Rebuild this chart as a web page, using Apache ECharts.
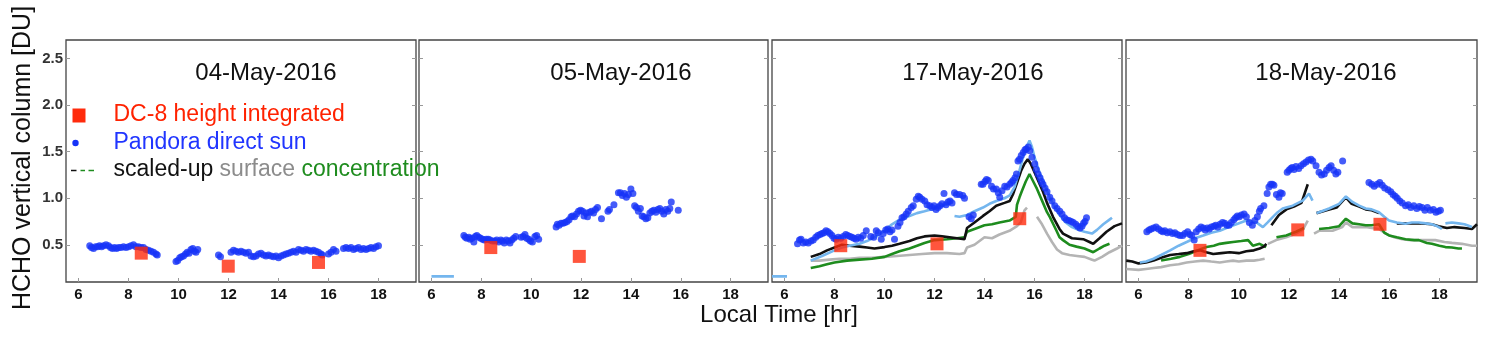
<!DOCTYPE html>
<html>
<head>
<meta charset="utf-8">
<script src="https://cdn.jsdelivr.net/npm/echarts@6/dist/echarts.min.js"></script>
<style>
  html, body { margin: 0; padding: 0; background: #fff; }
  #main { width: 1490px; height: 343px; }
</style>
</head>
<body>
<div id="main"></div>
<script>
// points are [local hour, HCHO column in DU]; null = break in a line
var days = ['04-May-2016', '05-May-2016', '17-May-2016', '18-May-2016'];
var xTicks = [6, 8, 10, 12, 14, 16, 18];
var yTicks = [0.5, 1.0, 1.5, 2.0, 2.5];

// DC-8 height integrated columns (red squares)
var dc8_0504 = [[8.51, 0.41], [11.99, 0.27], [15.6, 0.31]];
var dc8_0505 = [[8.38, 0.47], [11.93, 0.375]];
var dc8_0517 = [[8.25, 0.49], [12.1, 0.51], [15.41, 0.78]];
var dc8_0518 = [[8.45, 0.44], [12.35, 0.66], [15.63, 0.72]];

// Pandora direct sun (blue dots)
var pandora_0504 = [[6.45,0.49],[6.52,0.47],[6.6,0.46],[6.68,0.48],[6.76,0.48],[6.84,0.49],[6.92,0.48],[7.0,0.49],[7.1,0.5],[7.2,0.49],
  [7.28,0.47],[7.36,0.46],[7.44,0.47],[7.52,0.46],[7.6,0.47],[7.7,0.47],[7.8,0.48],[7.9,0.47],[8.0,0.48],[8.1,0.49],[8.2,0.5],[8.3,0.48],
  [8.4,0.48],[8.5,0.47],[8.6,0.47],[8.7,0.45],[8.8,0.44],[8.9,0.43],[9.0,0.42],[9.1,0.4],[9.15,0.39],
  [9.9,0.32],[9.97,0.33],[10.05,0.36],[10.12,0.37],[10.2,0.38],[10.28,0.4],[10.35,0.42],[10.42,0.41],[10.5,0.45],[10.57,0.46],[10.63,0.43],
  [10.7,0.42],[10.77,0.45],[11.6,0.39],[11.68,0.37],
  [12.1,0.42],[12.2,0.44],[12.3,0.43],[12.4,0.42],[12.5,0.43],[12.6,0.42],[12.7,0.41],[12.8,0.42],[12.9,0.38],[13.0,0.37],[13.1,0.38],
  [13.2,0.4],[13.3,0.41],[13.4,0.39],[13.5,0.38],[13.6,0.39],[13.7,0.38],[13.8,0.37],[13.9,0.38],[14.0,0.36],[14.1,0.38],[14.2,0.39],
  [14.3,0.4],[14.4,0.41],[14.5,0.42],[14.6,0.43],[14.7,0.42],[14.8,0.45],[14.9,0.44],[15.0,0.43],[15.1,0.45],[15.2,0.44],[15.3,0.43],
  [15.4,0.44],[15.5,0.43],[15.6,0.42],[15.7,0.4],[15.75,0.39],[16.0,0.4],[16.1,0.42],[16.2,0.45],[16.3,0.43],
  [16.6,0.46],[16.7,0.47],[16.8,0.46],[16.9,0.47],[17.0,0.45],[17.1,0.46],[17.2,0.47],[17.3,0.45],[17.4,0.46],[17.5,0.45],[17.6,0.46],
  [17.7,0.47],[17.8,0.46],[17.9,0.48],[18.0,0.49]];
var pandora_0505 = [[7.3,0.6],[7.36,0.58],[7.42,0.57],[7.5,0.58],[7.55,0.56],[7.62,0.57],[7.7,0.53],[7.76,0.59],[7.82,0.6],[7.9,0.58],
  [7.97,0.57],[8.05,0.56],[8.12,0.55],[8.2,0.56],[8.28,0.56],[8.35,0.55],[8.45,0.54],[8.55,0.54],[8.62,0.55],[8.7,0.53],[8.78,0.55],
  [8.85,0.54],[8.92,0.52],[9.0,0.55],[9.08,0.54],[9.15,0.52],[9.22,0.55],[9.3,0.57],[9.38,0.59],[9.6,0.58],[9.68,0.59],[9.75,0.61],
  [9.82,0.57],[9.9,0.56],[9.97,0.54],[10.05,0.53],[10.15,0.59],[10.22,0.6],[10.3,0.56],
  [11.0,0.69],[11.05,0.72],[11.12,0.71],[11.2,0.73],[11.28,0.73],[11.36,0.74],[11.44,0.75],[11.52,0.77],[11.6,0.8],[11.66,0.81],
  [11.74,0.8],[11.82,0.83],[11.9,0.86],[11.98,0.87],[12.06,0.86],[12.12,0.81],[12.2,0.84],[12.26,0.8],[12.34,0.85],[12.42,0.86],
  [12.5,0.84],[12.58,0.88],[12.66,0.9],[12.82,0.78],[13.08,0.86],[13.14,0.88],[13.32,0.93],[13.5,1.06],[13.58,1.06],[13.66,1.03],
  [13.74,1.05],[13.82,1.01],[13.9,1.04],[14.0,1.1],[14.08,1.05],[14.15,0.92],[14.22,0.9],[14.3,0.86],[14.38,0.89],[14.45,0.81],
  [14.52,0.8],[14.6,0.78],[14.68,0.79],[14.76,0.84],[14.84,0.86],[14.92,0.87],[15.0,0.85],[15.08,0.88],[15.16,0.89],[15.24,0.86],
  [15.32,0.83],[15.4,0.88],[15.48,0.86],[15.56,0.89],[15.62,0.96],[15.9,0.87]];
var pandora_0517 = [[6.52,0.51],[6.6,0.55],[6.66,0.56],[6.75,0.52],[6.85,0.53],[6.95,0.52],[7.06,0.54],[7.15,0.55],[7.25,0.58],
  [7.33,0.6],[7.42,0.61],[7.5,0.62],[7.58,0.63],[7.66,0.65],[7.74,0.64],[7.82,0.62],[7.9,0.6],[7.98,0.57],[8.06,0.56],[8.15,0.58],
  [8.25,0.57],[8.35,0.59],[8.45,0.61],[8.53,0.6],[8.62,0.59],[8.7,0.58],[8.78,0.57],[8.86,0.56],[8.95,0.58],[9.05,0.57],[9.15,0.6],
  [9.27,0.65],[9.45,0.59],[9.57,0.58],[9.67,0.65],[9.75,0.63],[9.87,0.56],[9.95,0.62],[10.05,0.66],[10.13,0.67],[10.22,0.64],
  [10.3,0.66],[10.4,0.56],[10.54,0.7],[10.62,0.74],[10.7,0.79],[10.78,0.8],[10.87,0.83],[10.95,0.86],[11.07,0.9],[11.15,0.92],
  [11.27,0.99],[11.35,1.02],[11.41,1.01],[11.5,0.99],[11.61,0.97],[11.7,0.93],[11.81,0.92],[11.9,0.9],[11.98,0.92],[12.06,0.88],
  [12.14,0.9],[12.22,0.92],[12.3,0.94],[12.38,1.05],[12.46,0.93],[12.54,0.96],[12.62,0.97],[12.7,0.95],[12.8,1.06],[12.88,1.04],
  [13.0,1.04],[13.13,1.03],[13.2,1.0],[13.38,0.8],[13.47,0.78],[13.55,0.82],[13.87,1.15],[13.94,1.15],[14.02,1.18],[14.08,1.2],
  [14.15,1.19],[14.28,1.13],[14.36,1.1],[14.47,1.1],[14.55,1.06],[14.61,1.01],[14.7,1.08],[14.81,1.13],[14.9,1.12],[15.01,1.15],
  [15.08,1.17],[15.14,1.19],[15.22,1.22],[15.28,1.26],[15.34,1.4],[15.4,1.42],[15.47,1.46],[15.55,1.49],[15.62,1.52],[15.67,1.53],
  [15.75,1.55],[15.81,1.51],[15.9,1.44],[16.01,1.37],[16.07,1.31],[16.14,1.26],[16.22,1.22],[16.28,1.18],[16.34,1.15],[16.42,1.11],
  [16.5,1.07],[16.61,1.01],[16.7,0.97],[16.81,0.92],[16.9,0.89],[17.01,0.86],[17.1,0.83],[17.2,0.79],[17.28,0.77],[17.38,0.76],
  [17.47,0.75],[17.55,0.74],[17.65,0.72],[17.73,0.7],[17.82,0.68],[17.9,0.7],[17.96,0.73],[18.02,0.75],[18.08,0.79]];
var pandora_0518 = [[6.33,0.64],[6.42,0.66],[6.5,0.67],[6.6,0.68],[6.7,0.69],[6.8,0.67],[6.9,0.65],[6.97,0.64],[7.05,0.65],[7.15,0.63],
  [7.25,0.64],[7.36,0.62],[7.45,0.63],[7.55,0.61],[7.65,0.6],[7.76,0.6],[7.85,0.62],[7.96,0.64],[8.05,0.61],[8.12,0.6],[8.22,0.55],
  [8.3,0.64],[8.4,0.67],[8.49,0.69],[8.58,0.68],[8.66,0.66],[8.74,0.68],[8.82,0.67],[8.9,0.69],[9.0,0.7],[9.08,0.71],[9.16,0.69],
  [9.25,0.72],[9.35,0.74],[9.44,0.73],[9.52,0.71],[9.61,0.71],[9.7,0.74],[9.8,0.77],[9.87,0.79],[9.94,0.81],[10.02,0.8],[10.1,0.82],
  [10.21,0.83],[10.3,0.8],[10.42,0.74],[10.54,0.71],[10.64,0.76],[10.74,0.8],[10.82,0.86],[10.87,0.89],[11.0,0.92],[11.13,1.05],
  [11.2,1.12],[11.27,1.15],[11.34,1.15],[11.4,1.14],[11.5,1.04],[11.6,1.01],[11.66,1.06],[11.73,1.05],[11.93,1.28],[12.0,1.3],
  [12.07,1.32],[12.13,1.33],[12.2,1.31],[12.28,1.34],[12.39,1.32],[12.48,1.35],[12.58,1.37],[12.68,1.39],[12.78,1.41],[12.88,1.42],
  [12.95,1.4],[13.08,1.35],[13.2,1.28],[13.3,1.25],[13.41,1.26],[13.5,1.3],[13.6,1.33],[13.68,1.35],[13.78,1.3],[13.87,1.26],
  [13.95,1.28],[14.14,1.4],[15.19,1.17],[15.3,1.15],[15.4,1.13],[15.52,1.15],[15.62,1.17],[15.72,1.14],[15.82,1.11],[15.95,1.09],
  [16.06,1.07],[16.15,1.04],[16.24,1.02],[16.32,1.0],[16.42,0.97],[16.52,0.95],[16.65,0.92],[16.76,0.93],[16.86,0.9],[16.98,0.92],
  [17.1,0.89],[17.2,0.91],[17.31,0.9],[17.42,0.87],[17.52,0.9],[17.64,0.87],[17.76,0.88],[17.86,0.85],[17.96,0.86],[18.04,0.87]];

// scaled-up surface concentration (three variants) plus the light-blue trace
var lightBlue_0504 = [];
var lightBlue_0505 = [[6.0,0.16],[6.9,0.16]];
var lightBlue_0517 = [[5.5,0.16],[6.1,0.16], null,
  [7.05,0.33],[7.5,0.38],[8.0,0.44],[8.3,0.47],[8.6,0.49],[9.0,0.51],[9.3,0.54],[9.6,0.58],[10.0,0.65],[10.3,0.72],[10.6,0.77],
  [11.0,0.81],[11.3,0.84],[11.6,0.86],[12.0,0.89],[12.3,0.92],[12.6,0.94], null,
  [12.8,0.81],[13.0,0.8],[13.3,0.82],[13.6,0.86],[13.94,0.9],[14.2,0.94],[14.47,0.97],[14.8,1.0],[15.01,1.03],[15.2,1.12],
  [15.4,1.3],[15.55,1.45],[15.7,1.56],[15.8,1.62],[15.9,1.55],[16.0,1.44],[16.2,1.28],[16.5,1.08],[16.75,0.93],[17.0,0.82],
  [17.25,0.74],[17.5,0.69],[17.75,0.66],[18.0,0.64],[18.3,0.62],[18.5,0.66],[18.75,0.72],[19.0,0.77],[19.1,0.79]];
var lightBlue_0518 = [[6.05,0.31],[6.3,0.32],[6.6,0.35],[6.9,0.39],[7.26,0.44],[7.6,0.49],[7.92,0.53],[8.25,0.57],[8.58,0.6],
  [8.9,0.63],[9.24,0.65],[9.6,0.69],[9.9,0.72],[10.3,0.76],[10.5,0.75],[10.7,0.74],[10.96,0.69],[11.15,0.74],[11.36,0.8],
  [11.55,0.85],[11.75,0.89],[12.15,0.92],[12.55,0.975],[12.8,1.05],[12.94,0.975], null,
  [13.1,0.84],[13.2,0.85],[13.6,0.89],[14.0,0.94],[14.27,1.02],[14.53,0.96],[14.8,0.92],[15.06,0.89],[15.3,0.88],[15.59,0.85],
  [15.8,0.8],[15.99,0.76],[16.3,0.74],[16.65,0.725],[16.9,0.74],[17.18,0.74],[17.45,0.73],[17.7,0.72],[17.9,0.7],[18.1,0.67], null,
  [18.24,0.73],[18.5,0.74],[18.76,0.73],[19.0,0.72],[19.3,0.69]];

var black_0517 = [[7.05,0.37],[7.4,0.4],[7.7,0.44],[8.0,0.47],[8.3,0.5],[8.6,0.49],[9.0,0.48],[9.3,0.47],[9.6,0.46],[10.0,0.475],
  [10.3,0.49],[10.6,0.51],[11.0,0.54],[11.3,0.57],[11.6,0.59],[12.0,0.6],[12.3,0.59],[12.6,0.58],[12.9,0.57],[13.2,0.56],
  [13.3,0.68],[13.6,0.74],[13.94,0.81],[14.2,0.86],[14.47,0.92],[14.8,0.95],[15.01,0.97],[15.15,1.05],[15.28,1.15],[15.47,1.3],
  [15.6,1.37],[15.73,1.42],[15.85,1.37],[16.0,1.28],[16.34,1.07],[16.5,0.95],[16.74,0.8],[17.0,0.67],[17.14,0.62],[17.5,0.57],
  [17.95,0.56],[18.2,0.53],[18.35,0.51],[18.6,0.57],[18.88,0.64],[19.2,0.7],[19.5,0.73]];
var black_0518 = [[5.51,0.33],[5.75,0.32],[6.0,0.3],[6.3,0.31],[6.6,0.33],[6.9,0.36],[7.26,0.39],[7.6,0.4],[7.92,0.41],[8.2,0.43],
  [8.45,0.44],[8.7,0.42],[8.98,0.4],[9.3,0.41],[9.64,0.42],[10.0,0.41],[10.3,0.43],[10.6,0.44],[10.83,0.46],[11.0,0.48],[11.1,0.51], null,
  [11.3,0.71],[11.6,0.82],[11.9,0.88],[12.2,0.91],[12.5,0.95],[12.75,1.15], null,
  [13.1,0.84],[13.5,0.87],[13.9,0.9],[14.27,1.01],[14.5,0.94],[14.8,0.91],[15.06,0.88],[15.3,0.87],[15.59,0.84], null,
  [16.3,0.73],[16.8,0.73],[17.3,0.73],[17.7,0.72],[17.97,0.7],[18.3,0.68],[18.6,0.69],[19.0,0.68],[19.3,0.67],[19.5,0.72]];

var green_0517 = [[7.05,0.25],[7.4,0.27],[7.7,0.29],[8.0,0.31],[8.5,0.33],[9.0,0.34],[9.5,0.35],[10.0,0.37],[10.3,0.4],[10.6,0.43],
  [11.0,0.46],[11.3,0.49],[11.6,0.52],[12.0,0.55],[12.5,0.56],[12.9,0.57],[13.2,0.58],[13.3,0.64],[13.6,0.67],[14.0,0.71],
  [14.3,0.72],[14.6,0.74],[15.0,0.76],[15.25,0.8],[15.3,0.93],[15.4,1.01],[15.5,1.08],[15.65,1.18],[15.8,1.26],[15.95,1.18],
  [16.1,1.1],[16.34,0.95],[16.5,0.85],[16.61,0.8],[16.88,0.65],[17.0,0.58],[17.14,0.55],[17.4,0.5],[17.68,0.48],[18.0,0.46],
  [18.35,0.42],[18.6,0.46],[18.8,0.49],[19.0,0.51]];
var green_0518 = [[6.9,0.33],[7.3,0.35],[7.65,0.37],[8.0,0.4],[8.18,0.42],[8.45,0.45],[8.71,0.475],[9.0,0.49],[9.24,0.51],[9.5,0.52],
  [9.77,0.53],[10.1,0.54],[10.37,0.55],[10.56,0.49],[10.83,0.51],[11.09,0.475], null,
  [11.5,0.58],[11.89,0.6],[12.28,0.64],[12.6,0.68], null,
  [13.2,0.67],[13.6,0.68],[14.0,0.7],[14.27,0.78],[14.53,0.73],[14.8,0.72],[15.06,0.71],[15.3,0.71],[15.59,0.72],[15.8,0.63],
  [15.99,0.6],[16.3,0.58],[16.65,0.56],[17.0,0.55],[17.18,0.55],[17.5,0.52],[17.7,0.51],[18.0,0.49],[18.24,0.475],[18.5,0.47],
  [18.76,0.46],[18.9,0.46]];

var grey_0517 = [[7.05,0.33],[7.4,0.33],[7.8,0.34],[8.2,0.35],[8.6,0.35],[9.0,0.36],[9.5,0.36],[10.0,0.37],[10.5,0.38],[11.0,0.39],
  [11.5,0.4],[12.0,0.41],[12.5,0.41],[13.0,0.4],[13.2,0.41],[13.3,0.47],[13.6,0.5],[14.0,0.58],[14.3,0.57],[14.6,0.61],[15.0,0.65],
  [15.3,0.7],[15.45,0.74],[15.6,0.87],[15.7,0.9], null,
  [16.1,0.8],[16.3,0.72],[16.5,0.62],[16.7,0.53],[16.9,0.45],[17.1,0.41],[17.4,0.39],[17.7,0.38],[18.0,0.37],[18.3,0.34],[18.4,0.33],
  [18.7,0.37],[19.0,0.42],[19.3,0.46],[19.5,0.49]];
var grey_0518 = [[5.51,0.24],[6.0,0.23],[6.3,0.24],[6.6,0.25],[6.9,0.26],[7.26,0.28],[7.6,0.29],[7.92,0.31],[8.25,0.32],[8.58,0.33],
  [8.9,0.32],[9.24,0.31],[9.5,0.32],[9.77,0.33],[10.0,0.32],[10.3,0.33],[10.6,0.33],[10.83,0.34],[11.03,0.35], null,
  [11.16,0.51],[11.49,0.55],[11.89,0.58],[12.28,0.62],[12.55,0.66],[12.75,0.76], null,
  [13.0,0.62],[13.2,0.65],[13.5,0.65],[13.74,0.65],[14.13,0.69],[14.27,0.74],[14.53,0.69],[14.8,0.69],[15.06,0.69],[15.3,0.68],
  [15.59,0.67],[15.86,0.62],[16.2,0.58],[16.52,0.56],[16.85,0.55],[17.18,0.55],[17.5,0.55],[17.84,0.55],[18.2,0.53],[18.5,0.52],
  [18.9,0.51],[19.3,0.49],[19.5,0.49]];

var dc8 = [dc8_0504, dc8_0505, dc8_0517, dc8_0518];
var pandora = [pandora_0504, pandora_0505, pandora_0517, pandora_0518];
var lightBlue = [lightBlue_0504, lightBlue_0505, lightBlue_0517, lightBlue_0518];
var black = [[], [], black_0517, black_0518];
var green = [[], [], green_0517, green_0518];
var grey = [[], [], grey_0517, grey_0518];

var panelLeft = [66, 419, 772, 1126];
var panelWidth = [350, 349, 350, 351];
var font = '"Liberation Sans", Arial, sans-serif';

function gaps(arr) {
    return arr.map(function (p) { return p === null ? '-' : p; });
}

var grids = [], xAxes = [], yAxes = [], series = [];
for (var i = 0; i < 4; i++) {
    grids.push({
        left: panelLeft[i], top: 40, width: panelWidth[i], height: 242,
        show: true, borderColor: '#444', borderWidth: 1.3, backgroundColor: '#fff'
    });
    xAxes.push({
        type: 'value', gridIndex: i, min: 5.5, max: 19.5,
        axisLine: { show: false },
        splitLine: { show: false },
        axisTick: { inside: true, length: 4, customValues: xTicks, lineStyle: { color: '#999' } },
        axisLabel: {
            customValues: xTicks, margin: 5, color: '#111',
            fontSize: 15, fontWeight: 'bold', fontFamily: font
        }
    });
    // left axis (labels only on the first panel) and right axis for the inner ticks
    yAxes.push({
        type: 'value', gridIndex: i, position: 'left', min: 0.1, max: 2.7,
        axisLine: { show: false },
        splitLine: { show: false },
        axisTick: { inside: true, length: 4, customValues: yTicks, lineStyle: { color: '#999' } },
        axisLabel: {
            show: i === 0, customValues: yTicks, margin: 3, color: '#333',
            fontSize: 15, fontWeight: 'bold', fontFamily: font,
            formatter: function (v) { return v.toFixed(1); }
        }
    });
    yAxes.push({
        type: 'value', gridIndex: i, position: 'right', min: 0.1, max: 2.7,
        axisLine: { show: false },
        splitLine: { show: false },
        axisTick: { inside: true, length: 4, customValues: yTicks, lineStyle: { color: '#999' } },
        axisLabel: { show: false }
    });

    var lines = [
        { data: grey[i], color: '#b4b4b4' },
        { data: green[i], color: '#1e8c1e' },
        { data: black[i], color: '#111111' },
        { data: lightBlue[i], color: '#74b6ee' }
    ];
    lines.forEach(function (l) {
        series.push({
            type: 'line', xAxisIndex: i, yAxisIndex: 2 * i,
            data: gaps(l.data), showSymbol: false, connectNulls: false,
            lineStyle: { color: l.color, width: 2.6 }, z: 2
        });
    });
    series.push({
        type: 'scatter', xAxisIndex: i, yAxisIndex: 2 * i,
        data: pandora[i], symbol: 'circle', symbolSize: 7,
        itemStyle: { color: '#1633f8' }, z: 3
    });
    series.push({
        type: 'scatter', xAxisIndex: i, yAxisIndex: 2 * i,
        data: dc8[i], symbol: 'rect', symbolSize: 13,
        itemStyle: { color: '#ff2b0c' }, z: 4
    });
}

var titleX = [266, 621, 973, 1326];
var graphics = [];
days.forEach(function (d, i) {
    graphics.push({
        type: 'text', x: titleX[i], y: 73, z: 10,
        style: { text: d, font: '24px ' + font, fill: '#111', textAlign: 'center', textVerticalAlign: 'middle' }
    });
});
graphics.push(
    { type: 'text', x: 23, y: 158, rotation: Math.PI / 2, z: 10,
      style: { text: 'HCHO vertical column [DU]', font: '25px ' + font, fill: '#111', textAlign: 'center', textVerticalAlign: 'middle' } },
    { type: 'text', x: 779, y: 315, z: 10,
      style: { text: 'Local Time [hr]', font: '24px ' + font, fill: '#111', textAlign: 'center', textVerticalAlign: 'middle' } },
    // legend
    { type: 'rect', shape: { x: 72.5, y: 108.5, width: 13, height: 14 }, style: { fill: '#ff2b0c' }, z: 10 },
    { type: 'text', x: 113.5, y: 115, z: 10,
      style: { text: 'DC-8 height integrated', font: '23px ' + font, fill: '#ff2200', textVerticalAlign: 'middle' } },
    { type: 'circle', shape: { cx: 75.5, cy: 143, r: 3.2 }, style: { fill: '#1633f8' }, z: 10 },
    { type: 'text', x: 113.5, y: 142.5, z: 10,
      style: { text: 'Pandora direct sun', font: '23px ' + font, fill: '#2035ff', textVerticalAlign: 'middle' } },
    { type: 'line', shape: { x1: 71, y1: 170.5, x2: 76.5, y2: 170.5 }, style: { stroke: '#111', lineWidth: 1.5 }, z: 10 },
    { type: 'line', shape: { x1: 80.5, y1: 170.5, x2: 85, y2: 170.5 }, style: { stroke: '#1e8c1e', lineWidth: 1.5 }, z: 10 },
    { type: 'line', shape: { x1: 88.5, y1: 170.5, x2: 94, y2: 170.5 }, style: { stroke: '#1e8c1e', lineWidth: 1.5 }, z: 10 },
    { type: 'text', x: 113.5, y: 170, z: 10,
      style: {
          text: '{k|scaled-up }{g|surface }{c|concentration}', textVerticalAlign: 'middle',
          rich: {
              k: { font: '23px ' + font, fill: '#111' },
              g: { font: '23px ' + font, fill: '#8c8c8c' },
              c: { font: '23px ' + font, fill: '#1e8c1e' }
          }
      } }
);

var chart = echarts.init(document.getElementById('main'));
chart.setOption({
    animation: false,
    backgroundColor: '#fff',
    grid: grids,
    xAxis: xAxes,
    yAxis: yAxes,
    series: series,
    graphic: graphics
});
</script>
</body>
</html>
